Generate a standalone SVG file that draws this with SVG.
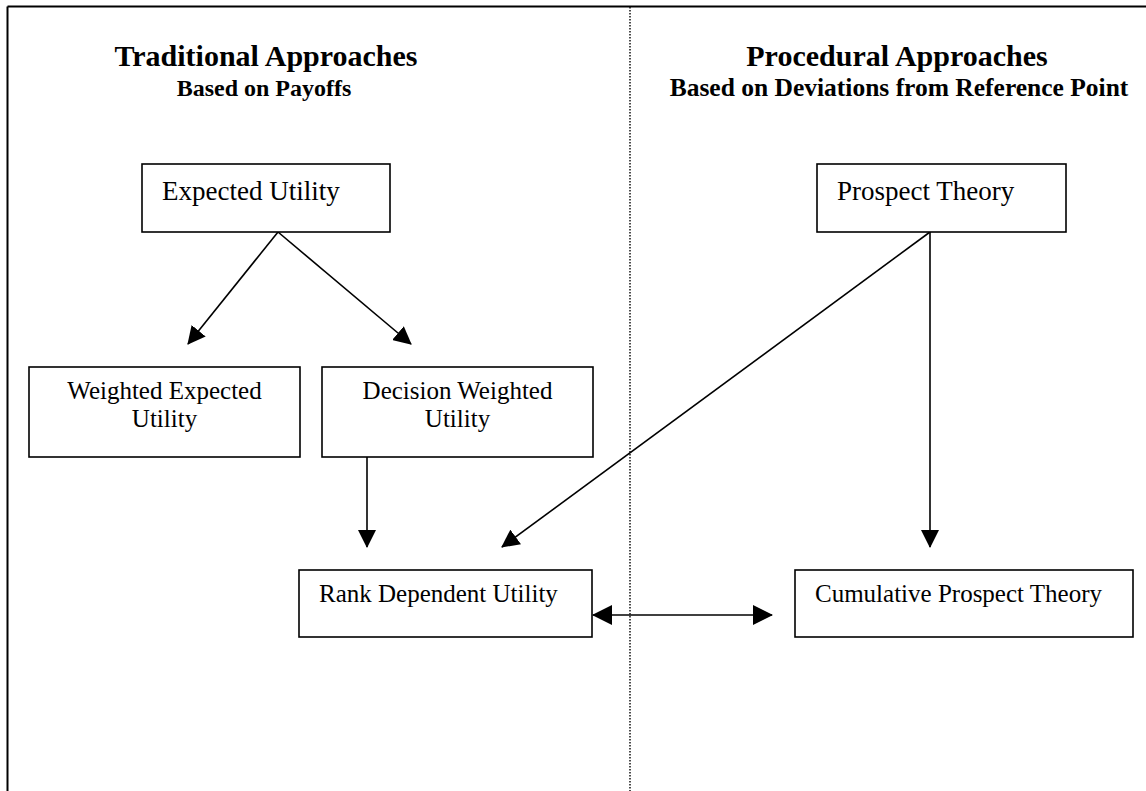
<svg xmlns="http://www.w3.org/2000/svg" width="1146" height="791" viewBox="0 0 1146 791">
  <style>
    .box { fill: #ffffff; stroke: #000000; stroke-width: 1.6; }
    .lbl { font-family: "Liberation Serif", "Times New Roman", serif; font-size: 25px; fill: #000000; }
    .lbl27 { font-family: "Liberation Serif", "Times New Roman", serif; font-size: 27px; fill: #000000; }
    .title { font-family: "Liberation Serif", "Times New Roman", serif; font-weight: bold; font-size: 30px; fill: #000000; }
    .sub { font-family: "Liberation Serif", "Times New Roman", serif; font-weight: bold; font-size: 24px; fill: #000000; }
    .edge { fill: none; stroke: #000000; stroke-width: 1.6; }
  </style>
  <defs>
    <marker id="arr" markerUnits="userSpaceOnUse" viewBox="0 0 18 18" refX="17" refY="9" markerWidth="18" markerHeight="18" orient="auto">
      <path d="M0,0 L18,9 L0,18 z" fill="#000000"/>
    </marker>
    <marker id="arr2" markerUnits="userSpaceOnUse" viewBox="0 0 20 20" refX="19" refY="10" markerWidth="20" markerHeight="20" orient="auto-start-reverse">
      <path d="M0,0 L20,10 L0,20 z" fill="#000000"/>
    </marker>
  </defs>
  <rect x="0" y="0" width="1146" height="791" fill="#ffffff"/>

  <g id="frame">
    <line x1="7.5" y1="6.5" x2="1146" y2="6.5" stroke="#000" stroke-width="2"/>
    <line x1="7.5" y1="6.5" x2="7.5" y2="791" stroke="#000" stroke-width="2"/>
    <line x1="630" y1="7" x2="630" y2="791" stroke="#000" stroke-width="1.4" stroke-dasharray="1.5 1.5"/>
  </g>

  <g id="titles">
    <text class="title" x="266" y="66" text-anchor="middle">Traditional Approaches</text>
    <text class="sub" x="264" y="96" text-anchor="middle">Based on Payoffs</text>
    <text class="title" x="897" y="66" text-anchor="middle">Procedural Approaches</text>
    <text class="sub" x="899" y="96" text-anchor="middle" style="font-size:25.5px">Based on Deviations from Reference Point</text>
  </g>

  <g id="connectors">
    <line class="edge" x1="278" y1="232" x2="188" y2="344" marker-end="url(#arr)"/>
    <line class="edge" x1="278" y1="232" x2="411" y2="344" marker-end="url(#arr)"/>
    <line class="edge" x1="367" y1="457" x2="367" y2="547" marker-end="url(#arr)"/>
    <line class="edge" x1="930" y1="232" x2="502" y2="547" marker-end="url(#arr)"/>
    <line class="edge" x1="930" y1="232" x2="930" y2="547" marker-end="url(#arr)"/>
    <line class="edge" x1="593" y1="615" x2="772" y2="615" marker-start="url(#arr2)" marker-end="url(#arr2)"/>
  </g>

  <g id="node-eu">
    <rect class="box" x="142" y="164" width="248" height="68"/>
    <text class="lbl27" x="162" y="200">Expected Utility</text>
  </g>
  <g id="node-weu">
    <rect class="box" x="29" y="367" width="271" height="90"/>
    <text class="lbl" x="164.5" y="399" text-anchor="middle">Weighted Expected</text>
    <text class="lbl" x="164.5" y="427" text-anchor="middle">Utility</text>
  </g>
  <g id="node-dwu">
    <rect class="box" x="322" y="367" width="271" height="90"/>
    <text class="lbl" x="457.5" y="399" text-anchor="middle">Decision Weighted</text>
    <text class="lbl" x="457.5" y="427" text-anchor="middle">Utility</text>
  </g>
  <g id="node-rdu">
    <rect class="box" x="299" y="570" width="293" height="67"/>
    <text class="lbl" x="319" y="602">Rank Dependent Utility</text>
  </g>
  <g id="node-pt">
    <rect class="box" x="817" y="164" width="249" height="68"/>
    <text class="lbl27" x="837" y="200">Prospect Theory</text>
  </g>
  <g id="node-cpt">
    <rect class="box" x="795" y="570" width="338" height="67"/>
    <text class="lbl" x="815" y="602">Cumulative Prospect Theory</text>
  </g>
</svg>
